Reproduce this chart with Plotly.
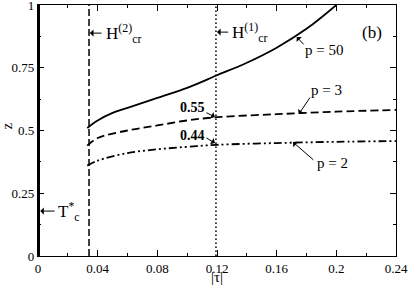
import plotly.graph_objects as go

# ---- data ----
tau_p50 = [0.033, 0.04, 0.05, 0.06, 0.08, 0.10, 0.12, 0.14, 0.16, 0.18, 0.20]
z_p50   = [0.51, 0.54, 0.57, 0.59, 0.63, 0.67, 0.72, 0.77, 0.83, 0.905, 1.0]

tau_p3 = [0.033, 0.04, 0.06, 0.08, 0.10, 0.12, 0.16, 0.20, 0.24]
z_p3   = [0.44, 0.47, 0.50, 0.52, 0.54, 0.553, 0.565, 0.575, 0.582]

tau_p2 = [0.033, 0.04, 0.06, 0.08, 0.10, 0.12, 0.16, 0.20, 0.24]
z_p2   = [0.36, 0.38, 0.41, 0.425, 0.435, 0.443, 0.45, 0.455, 0.458]

h2_tau = 0.0342   # H_cr^(2)
h1_tau = 0.1193   # H_cr^(1)
tc_tau = 0.0      # T_c*

x_ticks = [0, 0.04, 0.08, 0.12, 0.16, 0.2, 0.24]
x_ticklabels = ["0", "0.04", "0.08", "0.12", "0.16", "0.2", "0.24"]
y_ticks = [0, 0.25, 0.5, 0.75, 1]
y_ticklabels = ["0", "0.25", "0.5", "0.75", "1"]

FONT = "Liberation Serif"

fig = go.Figure()
fig.add_trace(go.Scatter(x=[tc_tau, tc_tau], y=[0, 1], mode="lines",
                         line=dict(color="black", width=4), showlegend=False))
fig.add_trace(go.Scatter(x=[h2_tau, h2_tau], y=[0, 1], mode="lines",
                         line=dict(color="black", width=1.5, dash="7px,3px"), showlegend=False))
fig.add_trace(go.Scatter(x=[h1_tau, h1_tau], y=[0, 1], mode="lines",
                         line=dict(color="black", width=1.5, dash="1.5px,2.5px"), showlegend=False))
fig.add_trace(go.Scatter(x=tau_p50, y=z_p50, mode="lines", line_shape="spline",
                         line=dict(color="black", width=1.8), showlegend=False))
fig.add_trace(go.Scatter(x=tau_p3, y=z_p3, mode="lines", line_shape="spline",
                         line=dict(color="black", width=1.8, dash="8px,4px"), showlegend=False))
fig.add_trace(go.Scatter(x=tau_p2, y=z_p2, mode="lines", line_shape="spline",
                         line=dict(color="black", width=1.8, dash="8px,3px,2px,3px,2px,3px"),
                         showlegend=False))

# arrows (tip x,y ; tail ax,ay in data coords)
arrows = [
    (0.0348, 0.888, 0.0436, 0.888),
    (0.1200, 0.892, 0.1285, 0.892),
    (0.0015, 0.179, 0.0121, 0.179),
    (0.1735, 0.873, 0.1790, 0.837),
    (0.1749, 0.566, 0.1830, 0.637),
    (0.1709, 0.454, 0.1856, 0.378),
    (0.1186, 0.554, 0.1119, 0.574),
    (0.1186, 0.450, 0.1119, 0.474),
]
for x, y, ax, ay in arrows:
    fig.add_annotation(x=x, y=y, ax=ax, ay=ay, xref="x", yref="y", axref="x", ayref="y",
                       text="", showarrow=True, arrowhead=1, arrowsize=1.2, arrowwidth=1,
                       arrowcolor="black", standoff=0, startstandoff=0)

texts = [
    (0.0440, 0.888, "H<sup>(2)</sup><sub>cr</sub>", 17, "left"),
    (0.1290, 0.892, "H<sup>(1)</sup><sub>cr</sub>", 17, "left"),
    (0.0122, 0.179, "T<sup>*</sup><sub>c</sub>", 17, "left"),
    (0.2238, 0.890, "(b)", 17, "center"),
    (0.1775, 0.820, "p = 50", 15, "left"),
    (0.1820, 0.661, "p = 3", 15, "left"),
    (0.1855, 0.370, "p = 2", 15, "left"),
    (0.1035, 0.590, "<b>0.55</b>", 14, "center"),
    (0.1035, 0.482, "<b>0.44</b>", 14, "center"),
]
for x, y, t, s, xa in texts:
    fig.add_annotation(x=x, y=y, xref="x", yref="y", text=t, showarrow=False,
                       xanchor=xa, yanchor="middle", font=dict(family=FONT, size=s, color="black"))

# axis titles
fig.add_annotation(x=0.5, y=0, xref="paper", yref="paper", text="|τ|", showarrow=False,
                   xanchor="center", yanchor="bottom", yshift=-31,
                   font=dict(family=FONT, size=15, color="black"))
fig.add_annotation(x=0, y=0.5, xref="paper", yref="paper", text="z", showarrow=False,
                   xanchor="center", yanchor="middle", xshift=-32, yshift=4, textangle=-90,
                   font=dict(family=FONT, size=15, color="black"))

axis_common = dict(showgrid=False, zeroline=False, showline=True, linecolor="black",
                   linewidth=1.2, mirror="allticks", ticks="inside", ticklen=6,
                   tickcolor="black", tickwidth=1, ticklabeloverflow="allow",
                   automargin=False,
                   tickfont=dict(family=FONT, size=13, color="black"))

fig.update_xaxes(range=[0, 0.24], tickvals=x_ticks, ticktext=x_ticklabels,
                 minor=dict(dtick=0.02, ticklen=3, ticks="inside", tickcolor="black"),
                 **axis_common)
fig.update_yaxes(range=[0, 1], tickvals=y_ticks, ticktext=y_ticklabels,
                 minor=dict(dtick=0.125, ticklen=3, ticks="inside", tickcolor="black"),
                 **axis_common)

fig.update_layout(width=409, height=288, margin=dict(l=38, r=13, t=5, b=32),
                  plot_bgcolor="white", paper_bgcolor="white", showlegend=False)

fig.write_html("out.html", config={"displayModeBar": False},
               post_script="document.body.style.margin='0';")
